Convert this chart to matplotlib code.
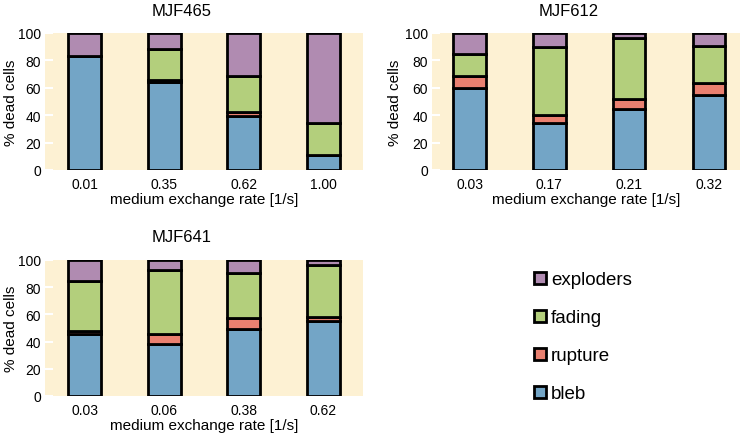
import matplotlib
matplotlib.use("Agg")
import matplotlib.pyplot as plt
from matplotlib.patches import Patch
import numpy as np

plt.rcParams['font.family'] = ['Liberation Sans', 'DejaVu Sans']

categories = ['bleb', 'rupture', 'fading', 'exploders']
colors = {'bleb': '#73a5c6', 'rupture': '#e98070', 'fading': '#b3cf7c', 'exploders': '#b08bb1'}

# MJF465
rates_465 = ['0.01', '0.35', '0.62', '1.00']
bleb_465 = [83.4, 64, 39.5, 11]
rupture_465 = [0, 2, 2.5, 0]
fading_465 = [0, 22, 26.5, 23.5]
exploders_465 = [16.6, 12, 31.5, 65.5]

# MJF612
rates_612 = ['0.03', '0.17', '0.21', '0.32']
bleb_612 = [59.5, 34, 44.5, 55]
rupture_612 = [9, 6, 7, 8.5]
fading_612 = [16.5, 50, 44.5, 27]
exploders_612 = [15, 10, 4, 9.5]

# MJF641
rates_641 = ['0.03', '0.06', '0.38', '0.62']
bleb_641 = [45.5, 38.5, 49, 55]
rupture_641 = [2, 7, 8, 3]
fading_641 = [37, 47.5, 33.5, 38]
exploders_641 = [15.5, 7, 9.5, 4]

titles = ['MJF465', 'MJF612', 'MJF641']
panels = [
    (rates_465, [bleb_465, rupture_465, fading_465, exploders_465]),
    (rates_612, [bleb_612, rupture_612, fading_612, exploders_612]),
    (rates_641, [bleb_641, rupture_641, fading_641, exploders_641]),
]

W, H = 750, 439
fig = plt.figure(figsize=(W / 100, H / 100), dpi=100)

def px_axes(l, t, r, b):
    return fig.add_axes([l / W, 1 - b / H, (r - l) / W, (b - t) / H])

ax_specs = [(45, 34, 363, 171, -0.5, 3.5), (432, 34, 740, 171, -0.47, 3.39), (45, 261, 363, 397, -0.5, 3.5)]
title_pos = [(182, 11), (569, 11), (182, 238)]
ylabel_x = [11, 395, 11]

bg = '#fdf1d3'
for (rates, series), (l, t, r, b, x0, x1), title, (tx, ty), ylx in zip(panels, ax_specs, titles, title_pos, ylabel_x):
    ax = px_axes(l, t, r, b)
    ax.set_facecolor(bg)
    x = np.arange(len(rates))
    bottom = np.zeros(len(rates))
    for cat, vals in zip(categories, series):
        vals = np.array(vals, dtype=float)
        ax.bar(x, vals, width=0.41, bottom=bottom, color=colors[cat],
               edgecolor='black', linewidth=2.0, zorder=3)
        bottom += vals
    ax.set_xlim(x0, x1)
    ax.set_ylim(0, 100)
    ax.set_yticks([0, 20, 40, 60, 80, 100])
    ax.set_xticks(x)
    ax.set_xticklabels(rates)
    for s in ax.spines.values():
        s.set_visible(False)
    ax.tick_params(axis='y', direction='in', length=6, width=1.5, color='white', labelsize=10, pad=3)
    ax.tick_params(axis='x', length=0, labelsize=10, pad=5)
    ax.set_xlabel('medium exchange rate [1/s]', fontsize=11, labelpad=1)
    fig.text(ylx / W, 1 - ((t + b) / 2) / H, '% dead cells', rotation=90,
             ha='center', va='center', fontsize=11)
    fig.text(tx / W, 1 - ty / H, title, ha='center', va='center', fontsize=12)

handles = [Patch(facecolor=colors[c], edgecolor='black', linewidth=2.0, label=c)
           for c in ['exploders', 'fading', 'rupture', 'bleb']]
fig.legend(handles=handles, loc='center left', bbox_to_anchor=(517 / W, 1 - 338 / H),
           frameon=False, fontsize=13.5, handlelength=0.65, handleheight=0.65,
           handletextpad=0.25, labelspacing=1.12)

fig.savefig('out.png', dpi=100)
